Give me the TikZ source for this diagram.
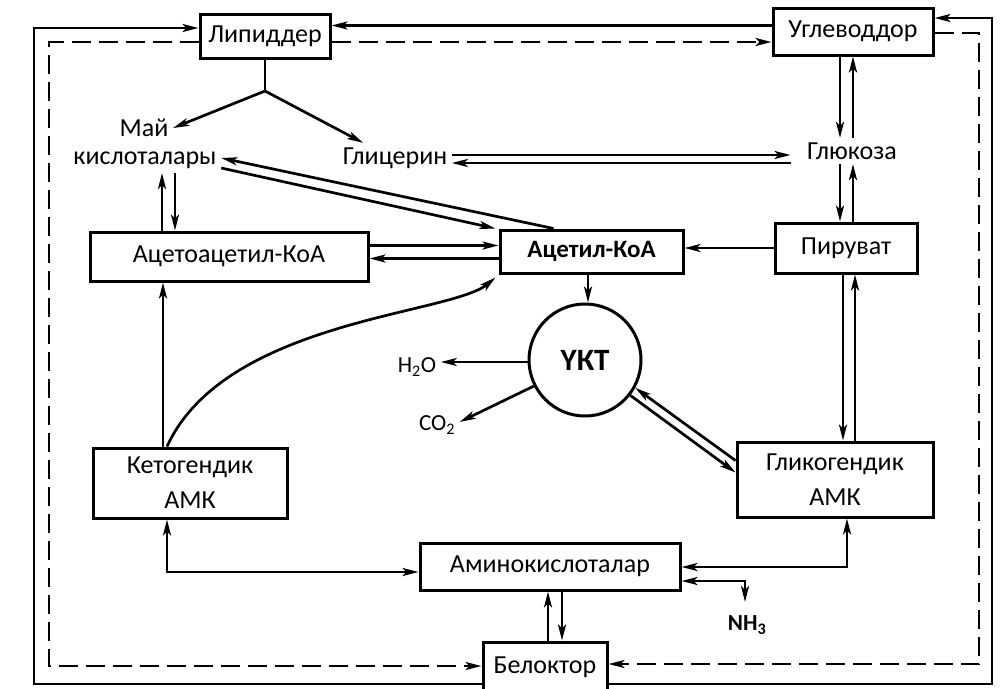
\documentclass[tikz,border=0pt]{standalone}
\usepackage{fontspec}
\setmainfont{Carlito}
\usetikzlibrary{arrows.meta,calc}

\begin{document}
\begin{tikzpicture}[x=1pt,y=-1pt,
  line width=2.7pt,
  >={Stealth[length=16pt,width=8pt,inset=4pt]},
  font=\fontsize{26}{32}\selectfont,
  box/.style={draw,rectangle,inner sep=0pt,line width=3pt},
  twoline/.style={align=center,font=\fontsize{26}{35}\selectfont},
  small/.style={font=\fontsize{23}{27}\selectfont},
  broken/.style={dash pattern=on 19pt off 8pt}
]
\fill[white] (0,0) rectangle (1003,688);
\useasboundingbox (0,0) rectangle (1003,688);

% boxes
\node[box,minimum width=130pt,minimum height=44pt] (lip) at (265,36) {Липиддер};
\node[box,minimum width=160pt,minimum height=47pt] (ugl) at (853,31.5) {Углеводдор};
\node[box,minimum width=278pt,minimum height=49pt] (acac) at (229,256.5) {Ацетоацетил-КоА};
\node[box,minimum width=183pt,minimum height=43pt,font=\fontsize{25}{30}\selectfont\bfseries] (acet) at (591.5,251.5) {Ацетил-КоА};
\node[box,minimum width=142pt,minimum height=50pt] (pir) at (846,248) {Пируват};
\node[box,twoline,minimum width=194pt,minimum height=70pt] (keto) at (190,483) {Кетогендик\\АМК};
\node[box,twoline,minimum width=196pt,minimum height=75pt] (glyc) at (835,479.5) {Гликогендик\\АМК};
\node[box,minimum width=260pt,minimum height=47pt] (amino) at (550,566.5) {Аминокислоталар};
\node[box,minimum width=124pt,minimum height=50pt] (bel) at (545,667) {Белоктор};
\node[draw,circle,minimum size=112pt,inner sep=0pt,line width=3pt,
      font=\fontsize{31}{36}\selectfont\bfseries] (ukt) at (585,360) {ҮКТ};

% free labels
\node (fa1) at (144,128) {Май};
\node (fa2) at (145,160) {кислоталары};
\node (glyr) at (395,158) {Глицерин};
\node (glu) at (852,151) {Глюкоза};
\node[small] (h2o) at (417,367) {H\textsubscript{2}O};
\node[small] (co2) at (437,425) {CO\textsubscript{2}};
\node[small,font=\fontsize{23}{27}\selectfont\bfseries] (nh3) at (747,625) {NH\textsubscript{3}};

% outer solid loops
\coordinate (sBL) at (34,684);
\coordinate (sTL) at (34,28);
\coordinate (sBR) at (992,684);
\coordinate (sTR) at (992,18);
\draw[->] ([yshift=-17pt]bel.west) -- (sBL) -- (sTL) -- (sTL -| lip.west);
\draw[->] ([yshift=-17pt]bel.east) -- (sBR) -- (sTR) -- (sTR -| ugl.east);
\draw[->] ([yshift=6pt]ugl.west) -- ([yshift=6pt]ugl.west -| lip.east);

% outer dashed loops
\coordinate (dTL) at (49,42);
\coordinate (dBL) at (49,666);
\coordinate (dTR) at (979,33);
\coordinate (dBR) at (979,664);
\draw[broken,->] (dTL -| lip.west) -- (dTL) -- (dBL) -- (dBL -| bel.west);
\draw[broken,->] (dTL -| lip.east) -- (dTL -| ugl.west);
\draw[broken,->] (dTR -| ugl.east) -- (dTR) -- (dBR) -- (dBR -| bel.east);

% lipid breakdown
\coordinate (jn) at (265,91);
\draw (lip.south) -- (jn);
\draw[->] (jn) -- (fa1.east);
\draw[->] (jn) -- ([xshift=25pt]glyr.north west);

% glycerol <-> glucose
\draw[->] ([yshift=3pt]glyr.east) -- ([xshift=-12pt,yshift=-4pt]glu.west);
\draw[<-] ([yshift=-5pt]glyr.east) -- ([xshift=-12pt,yshift=-12pt]glu.west);

% carbohydrates <-> glucose <-> pyruvate
\draw[->] ([xshift=-13pt]ugl.south) -- ([xshift=-13pt]ugl.south |- glu.north);
\draw[<-] (ugl.south) -- (ugl.south |- glu.north);
\draw[->] ([xshift=-6pt]pir.north |- glu.south) -- ([xshift=-6pt]pir.north);
\draw[<-] ([xshift=7pt]pir.north |- glu.south) -- ([xshift=7pt]pir.north);

% pyruvate
\draw[->] (pir.west) -- (pir.west -| acet.east);
\draw[->] ([xshift=-3pt]pir.south) -- ([xshift=-3pt]pir.south |- glyc.north);
\draw[<-] ([xshift=9pt]pir.south) -- ([xshift=9pt]pir.south |- glyc.north);

% acetoacetyl-CoA <-> acetyl-CoA
\draw[->] ([yshift=11pt]acac.east) -- ([yshift=11pt]acac.east -| acet.west);
\draw[<-] ([yshift=-2pt]acac.east) -- ([yshift=-2pt]acac.east -| acet.west);

% fatty acids
\draw[->] ([xshift=-67pt]acac.north) -- ([xshift=-67pt]acac.north |- fa2.south);
\draw[<-] ([xshift=-54pt]acac.north) -- ([xshift=-54pt]acac.north |- fa2.south);
\draw[->] ([xshift=-38pt]acet.north) -- ([yshift=2pt]fa2.east);
\draw[->] ([yshift=-8pt]fa2.east) -- ([xshift=-3pt]acet.north west);

% ketogenic amino acids
\draw[->] ([xshift=-27pt]keto.north) -- ([xshift=-27pt]keto.north |- acac.south);
\draw[->] ([xshift=-23pt]keto.north) .. controls (225,320) and (450,315) .. ([xshift=-3pt,yshift=-3pt]acet.south west);

% citric acid cycle
\draw[->] ([xshift=-3.5pt]acet.south) -- ([xshift=-3.5pt]acet.south |- ukt.north);
\draw[->] ([yshift=-2pt]ukt.west) -- ([yshift=-2pt]ukt.west -| h2o.east);
\draw[->] (ukt.207) -- ([yshift=3pt]co2.east);
\draw[<-] (ukt.-29) -- ([yshift=19pt]glyc.west);
\draw[->] (ukt.-38) -- ([yshift=7pt]glyc.west);

% amino acids
\draw[<->] ([yshift=-5.5pt]amino.west) -| ([xshift=-23pt]keto.south);
\draw[<->] ([yshift=-0.5pt]amino.east) -| ([xshift=12pt]glyc.south);
\draw[<->] ([yshift=-14.5pt]amino.east) -| ([xshift=-2pt,yshift=9pt]nh3.north);
\draw[->] ([xshift=3pt]bel.north) -- ([xshift=3pt]bel.north |- amino.south);
\draw[<-] ([xshift=17pt]bel.north) -- ([xshift=17pt]bel.north |- amino.south);
\end{tikzpicture}
\end{document}
